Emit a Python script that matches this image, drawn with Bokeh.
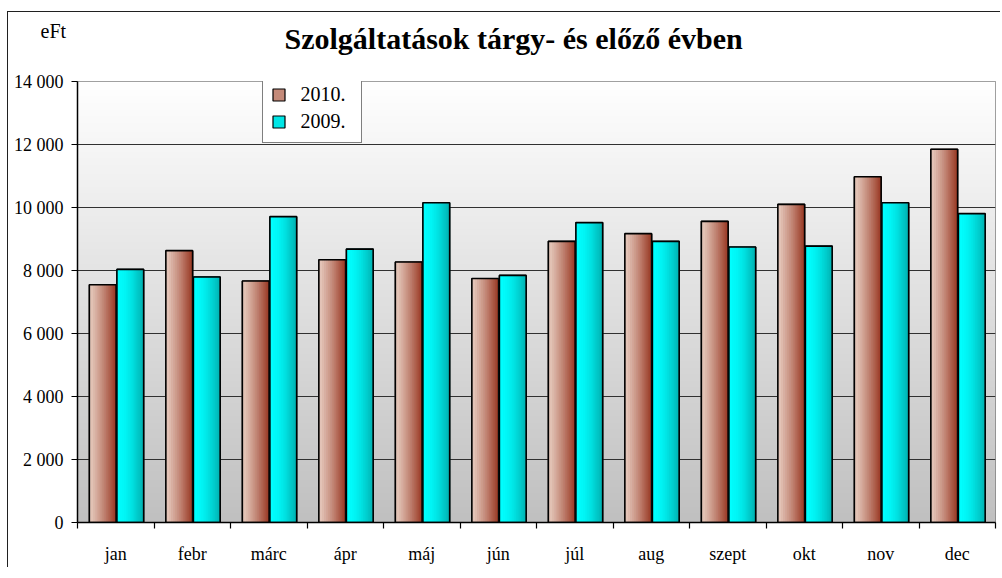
import numpy as np
from bokeh.plotting import figure
from bokeh.models import (Range1d, FixedTicker, Label, Legend, LegendItem, Title)
from bokeh.embed import file_html
from bokeh.resources import INLINE

# ---------------- data ----------------
months = ["jan", "febr", "márc", "ápr", "máj", "jún", "júl", "aug", "szept", "okt", "nov", "dec"]
v2010 = [7550, 8630, 7665, 8340, 8270, 7745, 8925, 9170, 9560, 10100, 10975, 11850]
v2009 = [8035, 7795, 9710, 8680, 10150, 7845, 9520, 8925, 8745, 8775, 10150, 9805]
series_names = ["2010.", "2009."]
y_ticks = [0, 2000, 4000, 6000, 8000, 10000, 12000, 14000]
title_text = "Szolgáltatások tárgy- és előző évben"
unit_text = "eFt"

FONT = "'Liberation Serif', 'Times New Roman', serif"

p = figure(width=993, height=556, output_backend="svg", toolbar_location=None,
           x_range=Range1d(0, len(months)), y_range=Range1d(0, 14000),
           min_border_left=69, min_border_right=6, min_border_top=69, min_border_bottom=46)
p.styles = {"margin-left": "6.5px", "margin-top": "10.5px",
            "border-top": "1.5px solid #202020", "border-left": "1.5px solid #202020"}
p.background_fill_color = "white"
p.border_fill_color = "white"
p.outline_line_color = "#808080"
p.outline_line_width = 1

# title
p.title = Title(text=title_text, align="left", offset=207, standoff=10,
                text_font=FONT, text_font_size="30px", text_font_style="bold",
                text_color="black")

# background vertical gradient (white -> gray)
ny = 200
t = np.linspace(0, 1, ny)  # 0 bottom, 1 top
col = (192 + (255 - 192) * t).astype(np.uint32)
img = np.empty((ny, 1), dtype=np.uint32)
img[:, 0] = (255 << 24) | (col << 16) | (col << 8) | col
bg = p.image_rgba(image=[img], x=0, y=0, dw=len(months), dh=14000)
bg.level = "image"

# grid
p.xgrid.visible = False
p.ygrid.ticker = FixedTicker(ticks=y_ticks[1:-1])
p.ygrid.grid_line_color = "#303030"
p.ygrid.grid_line_width = 1

# bars with horizontal gradient
def hex2rgb(h):
    h = h.lstrip("#")
    return tuple(int(h[i:i + 2], 16) for i in (0, 2, 4))

def mix(c1, c2, f):
    a, b = hex2rgb(c1), hex2rgb(c2)
    return "#%02x%02x%02x" % tuple(int(round(a[i] + (b[i] - a[i]) * f)) for i in range(3))

centers = np.arange(len(months)) + 0.51
bw = 0.35
offsets = [-0.18, 0.18]
grads = [("#e8cec1", "#983722", 1.2), ("#00ffff", "#00afaf", 1.8)]
sw_cols = ["#c48a79", "#00e6e6"]
N = 14
base_renderers = []
for vals, off, (c1, c2, gam), sc in zip([v2010, v2009], offsets, grads, sw_cols):
    xc = centers + off
    base = p.vbar(x=xc, top=vals, bottom=0, width=bw, fill_color=sc,
                  line_color="black", line_width=1.2)
    base_renderers.append(base)
    for k in range(N):
        f = ((k + 0.5) / N) ** gam
        c = mix(c1, c2, f)
        xs = xc - bw / 2 + (k + 0.5) * bw / N
        p.vbar(x=xs, top=vals, bottom=0, width=bw / N * 1.05, fill_color=c, line_color=c, line_width=0.5)
    p.vbar(x=xc, top=vals, bottom=0, width=bw, fill_color=None, line_color="black", line_width=1.6)

# legend
items = [LegendItem(label=n, renderers=[r]) for n, r in zip(series_names, base_renderers)]
leg = Legend(items=items, location=(185, 379))
leg.label_text_font = FONT
leg.label_text_font_size = "20px"
leg.label_text_color = "black"
leg.glyph_width = 15
leg.glyph_height = 15
leg.label_standoff = 15
leg.label_width = 52
leg.label_height = 24
leg.spacing = 3
leg.padding = 8
leg.margin = 0
leg.border_line_color = "black"
leg.border_line_width = 1
leg.background_fill_color = "white"
leg.background_fill_alpha = 1
p.add_layout(leg, "center")

# axes
yax = p.yaxis[0]
yax.ticker = FixedTicker(ticks=y_ticks)
yax.major_label_overrides = {v: f"{v:,}".replace(",", " ") for v in y_ticks}
yax.major_label_text_font = FONT
yax.major_label_text_font_size = "18px"
yax.major_label_text_color = "black"
yax.major_tick_out = 6
yax.major_tick_in = 0
yax.minor_tick_line_color = None
yax.axis_line_color = "black"
yax.axis_line_width = 1.5
yax.major_tick_line_color = "black"
yax.major_tick_line_width = 1.2
yax.major_label_standoff = 8

xax = p.xaxis[0]
xax.ticker = FixedTicker(ticks=list(np.arange(len(months)) + 0.5),
                         minor_ticks=list(range(len(months) + 1)))
xax.major_label_overrides = {float(i + 0.5): m for i, m in enumerate(months)}
xax.major_label_text_font = FONT
xax.major_label_text_font_size = "18px"
xax.major_label_text_color = "black"
xax.major_tick_out = 0
xax.major_tick_in = 0
xax.major_tick_line_color = None
xax.minor_tick_out = 6
xax.minor_tick_in = 0
xax.minor_tick_line_color = "black"
xax.minor_tick_line_width = 1.2
xax.axis_line_color = "black"
xax.axis_line_width = 1.5
xax.major_label_standoff = 15

# unit label in the top panel
p.add_layout(Label(x=-37, y=51, x_units="screen", y_units="screen", text=unit_text,
                   text_font=FONT, text_font_size="20px",
                   text_align="left", text_baseline="alphabetic", text_color="black"), "above")

open("out.html", "w").write(file_html(p, INLINE))
